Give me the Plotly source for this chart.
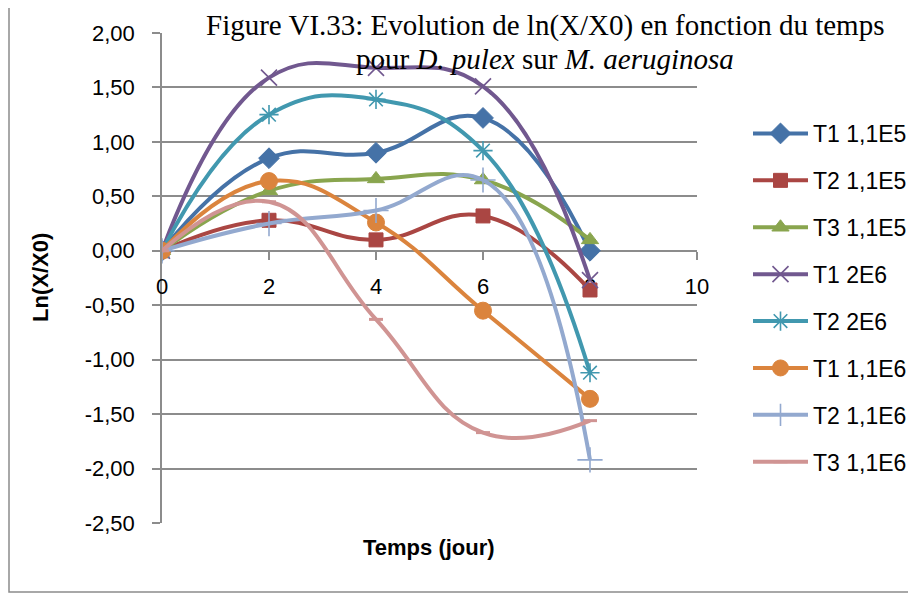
import plotly.graph_objects as go

# ---------------- data ----------------
days = [0, 2, 4, 6, 8]

t1_11e5 = [0.00, 0.85, 0.90, 1.22, 0.00]
t2_11e5 = [0.00, 0.28, 0.10, 0.32, -0.36]
t3_11e5 = [0.00, 0.55, 0.66, 0.65, 0.10]
t1_2e6 = [0.00, 1.59, 1.68, 1.51, -0.27]
t2_2e6 = [0.00, 1.25, 1.39, 0.92, -1.12]
t1_11e6 = [0.00, 0.64, 0.26, -0.55, -1.36]
t2_11e6 = [0.00, 0.25, 0.37, 0.65, -1.92]
t3_11e6 = [0.00, 0.45, -0.63, -1.67, -1.56]

series_names = ["T1 1,1E5", "T2 1,1E5", "T3 1,1E5", "T1 2E6",
                "T2 2E6", "T1 1,1E6", "T2 1,1E6", "T3 1,1E6"]
series_values = [t1_11e5, t2_11e5, t3_11e5, t1_2e6,
                 t2_2e6, t1_11e6, t2_11e6, t3_11e6]

y_tick_vals = [2.0, 1.5, 1.0, 0.5, 0.0, -0.5, -1.0, -1.5, -2.0, -2.5]
y_tick_text = ["2,00", "1,50", "1,00", "0,50", "0,00",
               "-0,50", "-1,00", "-1,50", "-2,00", "-2,50"]
x_tick_vals = [0, 2, 4, 6, 8, 10]
x_tick_text = ["0", "2", "4", "6", "8", "10"]

title_line1 = "Figure VI.33: Evolution de ln(X/X0) en fonction du temps"
title_line2 = "pour <i>D. pulex</i> sur <i>M. aeruginosa</i>"
x_title = "Temps (jour)"
y_title = "Ln(X/X0)"

# ---------------- styles ----------------
colors = ["#4572A7", "#AA4643", "#89A54E", "#71588F",
          "#4198AF", "#DB843D", "#93A9CF", "#D09493"]
symbols = ["diamond", "square", "triangle-up", "x-thin",
           "asterisk-open", "circle", "cross-thin-open", "line-ew"]
sizes = [16, 14, 15, 16, 16, 17, 18, 10]
line_widths = [1, 1, 1, 1.6, 1.6, 1, 1.6, 3]

OFF = 8                      # page body margin
W, H = 916 - OFF, 597 - OFF  # figure size
# plot area in absolute window px
L, R, T, B = 162, 697, 33, 523


def px(x):
    return (x - L) / (R - L)


def py(y):
    return (B - y) / (B - T)


GRID = "#8C8C8C"
SANS = "Liberation Sans"

fig = go.Figure()
for i, (name, vals) in enumerate(zip(series_names, series_values)):
    fig.add_trace(go.Scatter(
        x=days, y=vals, name=name, mode="lines+markers",
        legendgroup=f"g{i}",
        line=dict(color=colors[i], width=4, shape="spline", smoothing=1.25),
        marker=dict(symbol=symbols[i], size=sizes[i], color=colors[i],
                    line=dict(color=colors[i], width=line_widths[i])),
    ))

fig.update_layout(
    width=W, height=H,
    margin=dict(l=L - OFF, r=916 - R, t=T - OFF, b=597 - B, autoexpand=False),
    paper_bgcolor="white", plot_bgcolor="white",
    font=dict(family=SANS, size=22, color="black"),
    showlegend=True,
    legend=dict(x=px(748), y=py(112), xanchor="left", yanchor="top",
                font=dict(family=SANS, size=23, color="black"),
                tracegroupgap=14, itemwidth=55, bgcolor="rgba(0,0,0,0)"),
    xaxis=dict(range=[0, 10], tickvals=x_tick_vals, ticktext=x_tick_text,
               anchor="free", position=(0 - (-2.5)) / 4.5,
               showline=True, linecolor=GRID, linewidth=1.5,
               ticks="outside", ticklen=8, tickcolor=GRID, tickwidth=1.5,
               ticklabelstandoff=8,
               showgrid=False, zeroline=False, layer="below traces",
               tickfont=dict(family=SANS, size=22, color="black")),
    yaxis=dict(range=[-2.5, 2.0], tickvals=y_tick_vals, ticktext=y_tick_text,
               showline=True, linecolor=GRID, linewidth=1.5,
               ticks="outside", ticklen=8, tickcolor=GRID, tickwidth=1.5,
               ticklabelstandoff=13,
               showgrid=True, gridcolor=GRID, gridwidth=1.5,
               zeroline=False, layer="below traces",
               tickfont=dict(family=SANS, size=22, color="black")),
)

# outer chart border
fig.add_shape(type="rect", xref="paper", yref="paper",
              x0=px(9), x1=px(909), y0=py(592), y1=py(5),
              line=dict(color="#8C8C8C", width=1.5), fillcolor="rgba(0,0,0,0)",
              layer="below")

# axis titles
fig.add_annotation(xref="paper", yref="paper", x=px(429), y=py(547),
                   text=f"<b>{x_title}</b>", showarrow=False,
                   font=dict(family=SANS, size=22, color="black"),
                   xanchor="center", yanchor="middle")
fig.add_annotation(xref="paper", yref="paper", x=px(40), y=py(278),
                   text=f"<b>{y_title}</b>", showarrow=False, textangle=-90,
                   font=dict(family=SANS, size=22, color="black"),
                   xanchor="center", yanchor="middle")

# title (two lines)
SERIF = "Liberation Serif"
fig.add_annotation(xref="paper", yref="paper", x=px(545), y=py(25),
                   text=title_line1, showarrow=False,
                   font=dict(family=SERIF, size=29, color="black"),
                   xanchor="center", yanchor="middle")
fig.add_annotation(xref="paper", yref="paper", x=px(545), y=py(59),
                   text=title_line2, showarrow=False,
                   font=dict(family=SERIF, size=29, color="black"),
                   xanchor="center", yanchor="middle")

fig.write_html("out.html")
